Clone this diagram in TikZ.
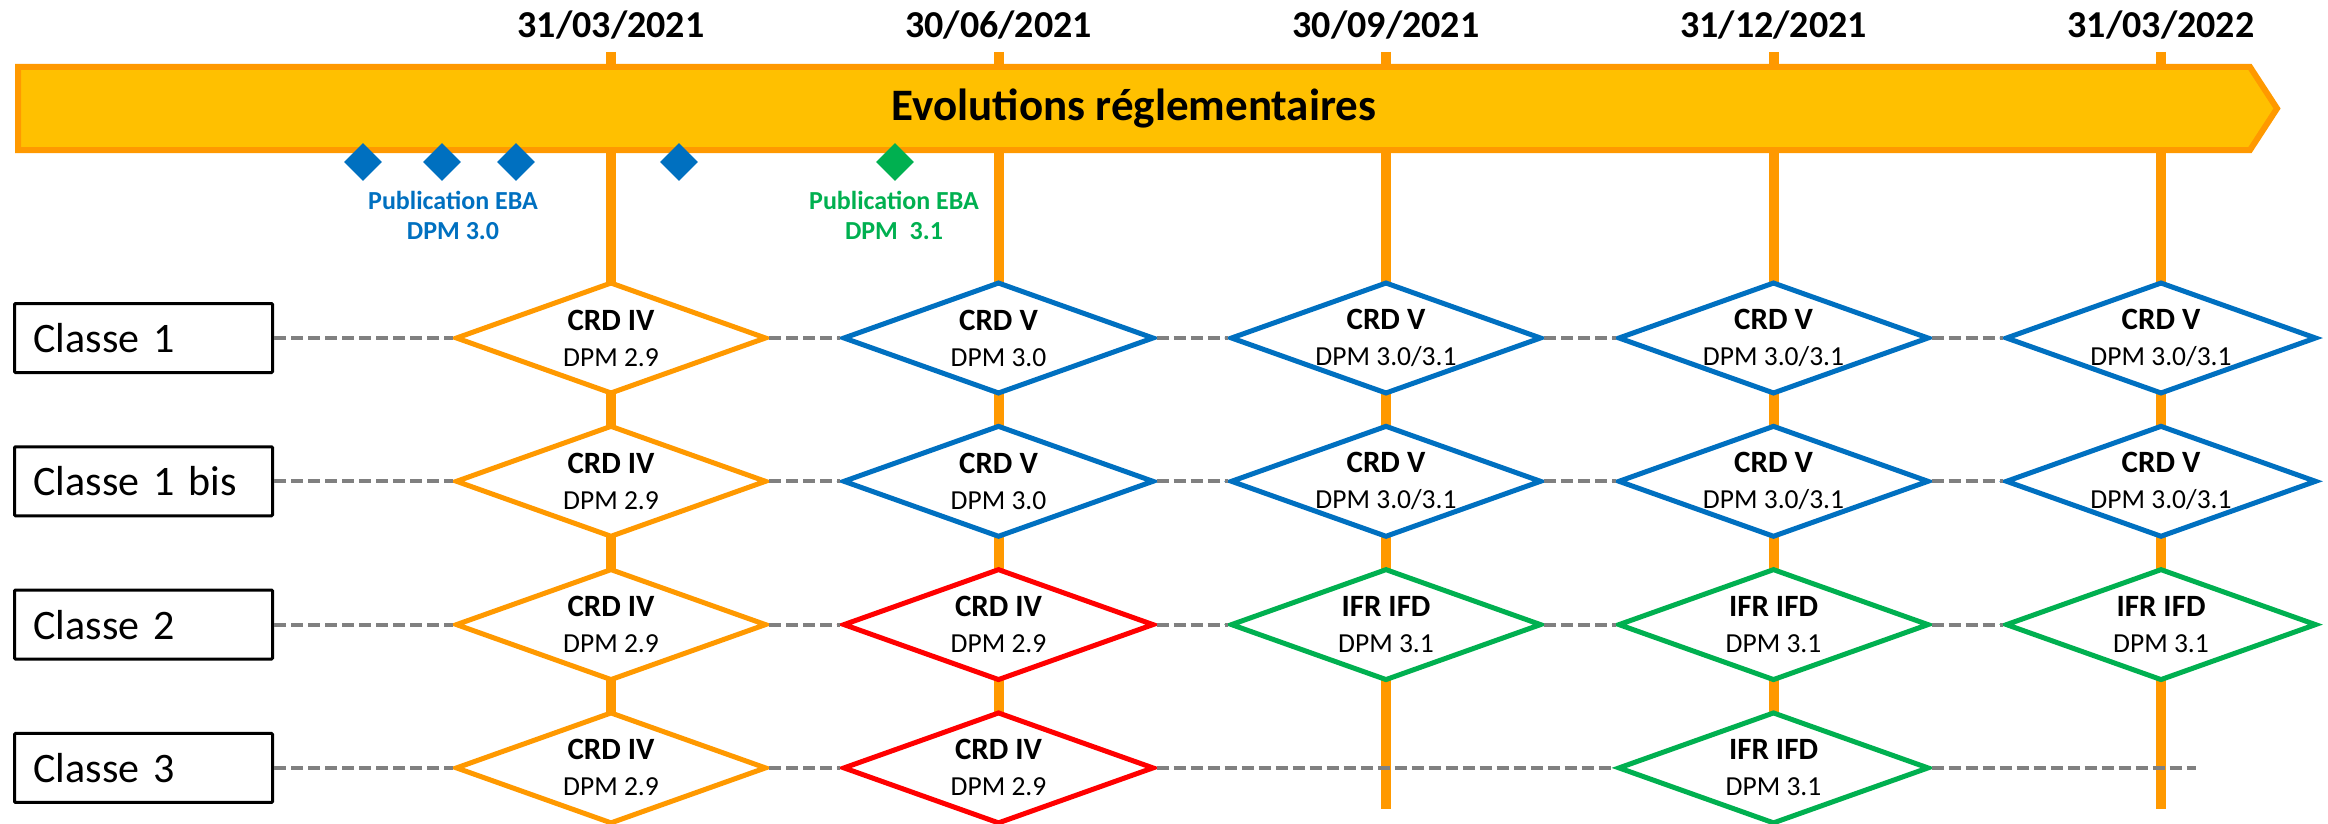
\documentclass[tikz,border=0pt]{standalone}
\usepackage{fontspec}
\setmainfont{Carlito}
\usetikzlibrary{positioning,shapes.geometric}

\definecolor{orangejalon}{HTML}{FF9900}
\definecolor{jaunebandeau}{HTML}{FFC000}
\definecolor{bleuEBA}{HTML}{0070C0}
\definecolor{vertEBA}{HTML}{00B050}
\definecolor{rougeCRD}{HTML}{FF0000}
\definecolor{grisTirets}{HTML}{808080}
\newcommand\regle[1]{{\fontsize{31}{36}\selectfont\bfseries #1}}

\begin{document}
\begin{tikzpicture}[
  x=1pt, y=-1pt,
  every node/.style={inner sep=0pt},
  date/.style={font=\fontsize{38}{42}\selectfont\bfseries},
  jalon/.style={orangejalon, line width=10pt},
  bandeau/.style={draw=orangejalon, fill=jaunebandeau, line width=6pt},
  pastille/.style={diamond, fill=#1, aspect=1, minimum width=38pt, minimum height=38pt},
  publi/.style={text=#1, align=center, font=\fontsize{26}{30}\selectfont\bfseries},
  classe/.style={draw, line width=3pt, rounded corners=1pt, minimum height=69pt,
    text width=220pt, inner xsep=19pt, align=left, font=\fontsize{42}{46}\selectfont},
  losange/.style={diamond, draw=#1, fill=white, line width=5pt, aspect=2.7,
    minimum width=311pt, minimum height=112pt, align=center,
    font=\fontsize{27.5}{36}\selectfont},
  tirets/.style={grisTirets, line width=4pt, dash pattern=on 12pt off 5pt}
]
\useasboundingbox (0,0) rectangle (2328,824);

% dates et jalons
\node[date] (date1) at (611,25) {31/03/2021};
\node[date] (date2) at (998.5,25) {30/06/2021};
\node[date] (date3) at (1386,25) {30/09/2021};
\node[date] (date4) at (1773.5,25) {31/12/2021};
\node[date] (date5) at (2161,25) {31/03/2022};
\draw[jalon] (date1 |- 0,52) -- (date1 |- 0,809);
\draw[jalon] (date2 |- 0,52) -- (date2 |- 0,809);
\draw[jalon] (date3 |- 0,52) -- (date3 |- 0,809);
\draw[jalon] (date4 |- 0,52) -- (date4 |- 0,809);
\draw[jalon] (date5 |- 0,52) -- (date5 |- 0,809);

% bandeau
\draw[bandeau] (18,67) -- (2250,67) -- (2277,108.5) -- (2250,150) -- (18,150) -- cycle;
\node[font=\fontsize{45}{50}\selectfont\bfseries] (titre) at (1134,108.5) {Evolutions réglementaires};

% publications EBA
\node[pastille=bleuEBA] (p1) at (363,162) {};
\node[pastille=bleuEBA] (p2) at (442,162) {};
\node[pastille=bleuEBA] (p3) at (516,162) {};
\node[pastille=bleuEBA] (p4) at (679,162) {};
\node[pastille=vertEBA] (p5) at (895,162) {};
\node[publi=bleuEBA] (pub30) at (453,215) {Publication EBA\\DPM 3.0};
\node[publi=vertEBA] (pub31) at (894,215) {Publication EBA\\DPM~~3.1};

% classes
\node[classe] (c1) at (143.5,338) {Classe 1};
\node[classe, below=71.3pt of c1] (c1b) {Classe 1 bis};
\node[classe, below=71.3pt of c1b] (c2) {Classe 2};
\node[classe, below=71.3pt of c2] (c3) {Classe 3};

% Classe 1
\node[losange=orangejalon] (a1) at (date1 |- c1) {\regle{CRD IV}\\DPM 2.9};
\node[losange=bleuEBA] (a2) at (date2 |- c1) {\regle{CRD V}\\DPM 3.0};
\node[losange=bleuEBA] (a3) at (date3 |- c1) {\regle{CRD V}\\DPM 3.0/3.1};
\node[losange=bleuEBA] (a4) at (date4 |- c1) {\regle{CRD V}\\DPM 3.0/3.1};
\node[losange=bleuEBA] (a5) at (date5 |- c1) {\regle{CRD V}\\DPM 3.0/3.1};

% Classe 1 bis
\node[losange=orangejalon] (b1) at (date1 |- c1b) {\regle{CRD IV}\\DPM 2.9};
\node[losange=bleuEBA] (b2) at (date2 |- c1b) {\regle{CRD V}\\DPM 3.0};
\node[losange=bleuEBA] (b3) at (date3 |- c1b) {\regle{CRD V}\\DPM 3.0/3.1};
\node[losange=bleuEBA] (b4) at (date4 |- c1b) {\regle{CRD V}\\DPM 3.0/3.1};
\node[losange=bleuEBA] (b5) at (date5 |- c1b) {\regle{CRD V}\\DPM 3.0/3.1};

% Classe 2
\node[losange=orangejalon] (d1) at (date1 |- c2) {\regle{CRD IV}\\DPM 2.9};
\node[losange=rougeCRD] (d2) at (date2 |- c2) {\regle{CRD IV}\\DPM 2.9};
\node[losange=vertEBA] (d3) at (date3 |- c2) {\regle{IFR IFD}\\DPM 3.1};
\node[losange=vertEBA] (d4) at (date4 |- c2) {\regle{IFR IFD}\\DPM 3.1};
\node[losange=vertEBA] (d5) at (date5 |- c2) {\regle{IFR IFD}\\DPM 3.1};

% Classe 3
\node[losange=orangejalon] (e1) at (date1 |- c3) {\regle{CRD IV}\\DPM 2.9};
\node[losange=rougeCRD] (e2) at (date2 |- c3) {\regle{CRD IV}\\DPM 2.9};
\node[losange=vertEBA] (e4) at (date4 |- c3) {\regle{IFR IFD}\\DPM 3.1};
\coordinate (fin3) at (2196,0 |- c3);

% liaisons
\draw[tirets] (c1) -- (a1);  \draw[tirets] (a1) -- (a2);  \draw[tirets] (a2) -- (a3);
\draw[tirets] (a3) -- (a4);  \draw[tirets] (a4) -- (a5);
\draw[tirets] (c1b) -- (b1); \draw[tirets] (b1) -- (b2);  \draw[tirets] (b2) -- (b3);
\draw[tirets] (b3) -- (b4);  \draw[tirets] (b4) -- (b5);
\draw[tirets] (c2) -- (d1);  \draw[tirets] (d1) -- (d2);  \draw[tirets] (d2) -- (d3);
\draw[tirets] (d3) -- (d4);  \draw[tirets] (d4) -- (d5);
\draw[tirets] (c3) -- (e1);  \draw[tirets] (e1) -- (e2);  \draw[tirets] (e2) -- (e4);
\draw[tirets] (e4) -- (fin3);
\end{tikzpicture}
\end{document}
